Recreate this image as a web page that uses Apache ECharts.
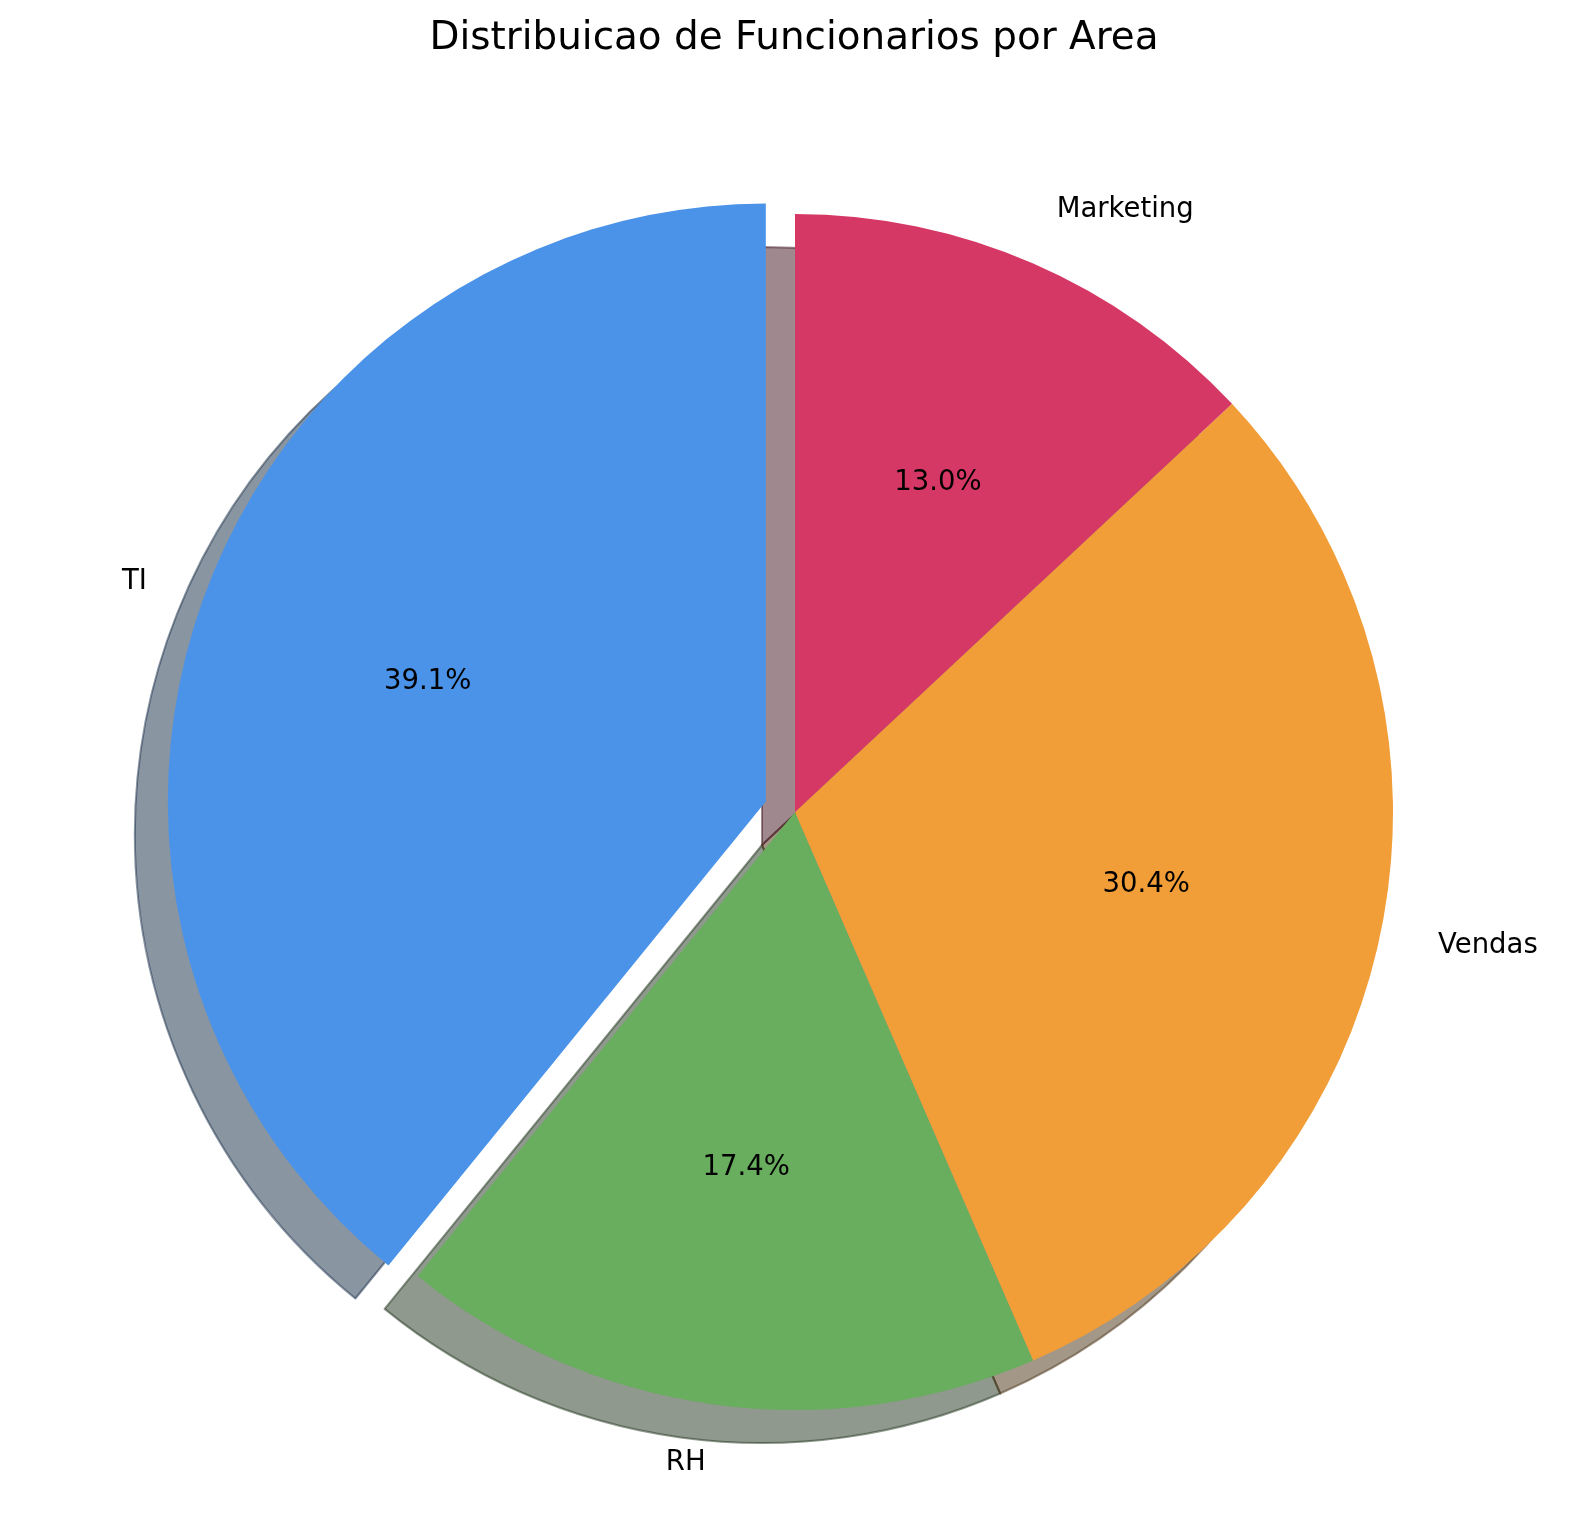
<!DOCTYPE html>
<html>
<head>
<meta charset="utf-8">
<script src="https://cdn.jsdelivr.net/npm/echarts@6/dist/echarts.min.js"></script>
<style>html,body{margin:0;padding:0;background:#fff}#chart{width:1580px;height:1518px}</style>
</head>
<body>
<div id="chart"></div>
<script>
const categories = ['TI', 'RH', 'Vendas', 'Marketing'];
const values = [9, 4, 7, 3];
const colors = ['#4A93E8', '#69AD5E', '#F19D38', '#D53864'];
const exploded = [true, false, false, false];
const titleText = 'Distribuicao de Funcionarios por Area';

const CX = 795, CY = 812, R = 598;
const SHADOW_DX = -33, SHADOW_DY = 33;
const OFFSET = 31;
const FONT = 'DejaVu Sans';

function hexToRgb(h) {
  const n = parseInt(h.slice(1), 16);
  return [(n >> 16) & 255, (n >> 8) & 255, n & 255];
}
function shadowColor(h) {
  const c = hexToRgb(h).map(v => Math.round(v * 0.3));
  return 'rgba(' + c.join(',') + ',0.5)';
}

const total = values.reduce((a, b) => a + b, 0);

const shadowData = categories.map((name, i) => ({
  name, value: values[i], selected: exploded[i],
  itemStyle: { color: shadowColor(colors[i]), borderColor: shadowColor(colors[i]), borderWidth: 2 }
}));
const mainData = categories.map((name, i) => ({
  name, value: values[i], selected: exploded[i],
  itemStyle: { color: colors[i], borderWidth: 0 }
}));
const labelData = categories.map((name, i) => ({
  name, value: values[i], selected: exploded[i]
}));

const common = {
  type: 'pie',
  startAngle: 90,
  clockwise: false,
  selectedMode: 'single',
  selectedOffset: OFFSET,
  avoidLabelOverlap: false,
  silent: true,
  animation: false,
  emphasis: { disabled: true },
  labelLine: { show: false }
};

const chart = echarts.init(document.getElementById('chart'), null, { renderer: 'canvas' });
chart.setOption({
  backgroundColor: '#ffffff',
  animation: false,
  title: {
    text: titleText,
    left: 789,
    textAlign: 'center',
    top: 14,
    textStyle: { fontFamily: FONT, fontSize: 38.9, fontWeight: 'normal', color: '#000', lineHeight: 40 }
  },
  series: [
    Object.assign({}, common, {
      name: 'shadow',
      z: 1,
      center: [CX + SHADOW_DX, CY + SHADOW_DY],
      radius: [0, R],
      label: { show: false },
      data: shadowData
    }),
    Object.assign({}, common, {
      name: 'main',
      z: 2,
      center: [CX, CY],
      radius: [0, R],
      label: { show: false },
      select: { itemStyle: { borderWidth: 0 } },
      data: mainData
    }),
    Object.assign({}, common, {
      name: 'pct',
      z: 3,
      center: [CX, CY],
      radius: [R * 0.2 - 6, R],
      itemStyle: { color: 'rgba(0,0,0,0)', borderWidth: 0 },
      select: { itemStyle: { borderWidth: 0, color: 'rgba(0,0,0,0)' } },
      label: {
        show: true, position: 'inside',
        fontFamily: FONT, fontSize: 27.5, color: '#000',
        formatter: p => (values[p.dataIndex] / total * 100).toFixed(1) + '%'
      },
      data: labelData
    }),
    Object.assign({}, common, {
      name: 'names',
      z: 3,
      center: [CX, CY],
      radius: [R, R * 1.2 - 8],
      itemStyle: { color: 'rgba(0,0,0,0)', borderWidth: 0 },
      select: { itemStyle: { borderWidth: 0, color: 'rgba(0,0,0,0)' } },
      label: {
        show: true, position: 'inside',
        fontFamily: FONT, fontSize: 27.5, color: '#000',
        formatter: '{b}'
      },
      labelLayout: function (p) {
        const cx = p.labelRect.x + p.labelRect.width / 2;
        return { align: cx < CX ? 'right' : 'left' };
      },
      data: labelData
    })
  ]
});
</script>
</body>
</html>
